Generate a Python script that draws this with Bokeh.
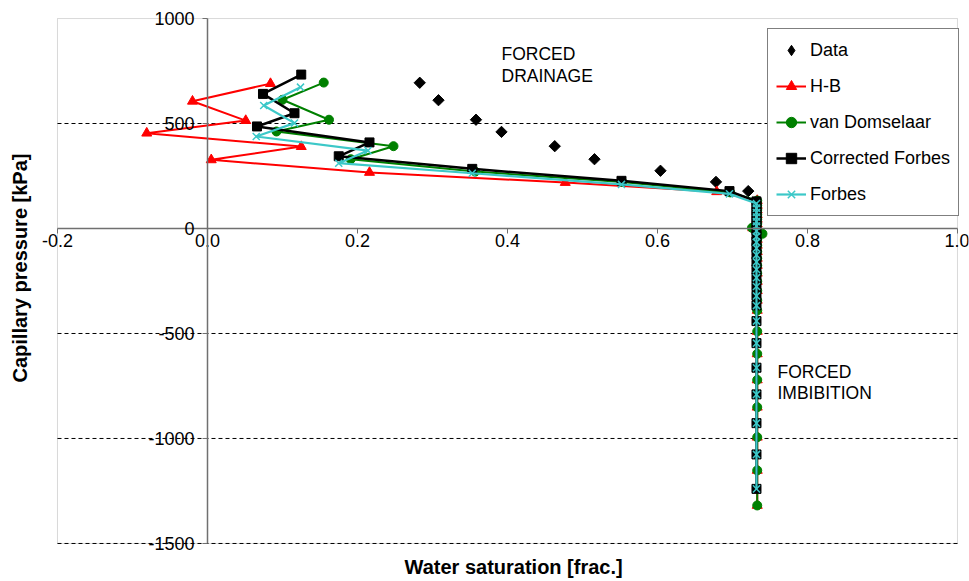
from bokeh.plotting import figure
from bokeh.models import (Range1d, Legend, LegendItem, Title, Label, FixedTicker,
                          NumeralTickFormatter, BoxAnnotation)
from bokeh.embed import file_html
from bokeh.resources import INLINE

# ---------------- data ----------------
x_ticks = [-0.2, 0.0, 0.2, 0.4, 0.6, 0.8, 1.0]
y_ticks = [-1500, -1000, -500, 0, 500, 1000]

data_sw = [0.283, 0.308, 0.358, 0.392, 0.463, 0.516, 0.604, 0.678, 0.721]
data_pc = [694, 611, 518, 460, 392, 330, 275, 222, 178]

# drainage branches
hb_dr_sw = [0.084, -0.020, 0.051, -0.081, 0.125, 0.005, 0.216, 0.477, 0.679]
hb_dr_pc = [690, 606, 514, 454, 390, 327, 267, 219, 175]
vd_dr_sw = [0.155, 0.100, 0.162, 0.092, 0.248, 0.191, 0.357, 0.553, 0.697]
vd_dr_pc = [695, 613, 518, 462, 392, 330, 271, 222, 172]
cf_dr_sw = [0.125, 0.074, 0.116, 0.066, 0.216, 0.175, 0.353, 0.552, 0.696]
cf_dr_pc = [733, 641, 549, 486, 410, 344, 284, 227, 178]
fb_dr_sw = [0.124, 0.075, 0.116, 0.065, 0.214, 0.175, 0.353, 0.552, 0.696]
fb_dr_pc = [673, 586, 502, 438, 371, 311, 263, 210, 165]

# imbibition branches (near-vertical column)
hb_im_pc = [133, 110, 88, 66, 44, 22, 3, -25, -52, -80, -110, -142, -176, -213,
            -252, -296, -342, -390, -490, -597, -721, -851, -994, -1152, -1319]
hb_im_sw = [0.733, 0.733, 0.733, 0.733, 0.733, 0.733, 0.727, 0.738, 0.733, 0.733,
            0.733, 0.733, 0.733, 0.733, 0.733, 0.733, 0.733, 0.733, 0.733, 0.733,
            0.733, 0.733, 0.733, 0.733, 0.733]
vd_im_pc = [133, 110, 88, 66, 44, 22, 3, -25, -52, -80, -110, -142, -176, -213,
            -252, -296, -342, -390, -490, -597, -721, -851, -994, -1152, -1319]
vd_im_sw = [0.733, 0.733, 0.733, 0.733, 0.733, 0.733, 0.726, 0.740, 0.733, 0.733,
            0.733, 0.733, 0.733, 0.733, 0.733, 0.733, 0.733, 0.733, 0.733, 0.733,
            0.733, 0.733, 0.733, 0.733, 0.733]
cf_im_pc = [129, 106, 84, 62, 40, 18, -8, -35, -62, -92, -124, -158, -194, -233,
            -275, -320, -366, -441, -546, -663, -790, -927, -1076, -1240]
cf_im_sw = [0.732] * len(cf_im_pc)
fb_im_pc = [119, 97, 76, 55, 33, 12, -12, -38, -65, -94, -126, -159, -195, -234,
            -276, -321, -367, -441, -546, -663, -790, -927, -1076, -1240]
fb_im_sw = [0.732] * len(fb_im_pc)

hb_sw, hb_pc = hb_dr_sw + hb_im_sw, hb_dr_pc + hb_im_pc
vd_sw, vd_pc = vd_dr_sw + vd_im_sw, vd_dr_pc + vd_im_pc
cf_sw, cf_pc = cf_dr_sw + cf_im_sw, cf_dr_pc + cf_im_pc
fb_sw, fb_pc = fb_dr_sw + fb_im_sw, fb_dr_pc + fb_im_pc

FONT = "Liberation Sans"
CYAN = "#3cc8c8"
X_LO, X_HI = x_ticks[0], x_ticks[-1]
Y_LO, Y_HI = y_ticks[0], y_ticks[-1]

# frame slightly larger than the plot area so that edge tick labels are not clipped
p = figure(width=969, height=580, output_backend="svg", toolbar_location=None,
           x_range=Range1d(-0.236, 1.0147), y_range=Range1d(-1543, 1062),
           min_border_left=30, min_border_right=1, min_border_top=5,
           min_border_bottom=28)

p.outline_line_color = None
p.background_fill_color = "white"
p.xgrid.visible = False
p.ygrid.visible = False

# dashed horizontal grid limited to the plot area
grid_y = [t for t in y_ticks if t not in (0, Y_HI)]
p.segment(x0=[X_LO] * len(grid_y), x1=[X_HI] * len(grid_y), y0=grid_y, y1=grid_y,
          line_color="black", line_dash="4 3", line_width=1)

p.add_layout(BoxAnnotation(left=X_LO, right=X_HI, bottom=Y_LO, top=Y_HI,
                           fill_alpha=0, line_color="#808080", line_width=1,
                           level="underlay"))

for ax in (p.xaxis[0], p.yaxis[0]):
    ax.fixed_location = 0
    ax.axis_line_color = "#707070"
    ax.axis_line_width = 1.5
    ax.major_tick_line_color = "#707070"
    ax.major_tick_in = 0
    ax.major_tick_out = 5
    ax.minor_tick_line_color = None
    ax.major_label_text_font = FONT
    ax.major_label_text_font_size = "18px"
    ax.major_label_text_color = "black"

p.xaxis[0].bounds = (X_LO, X_HI)
p.xaxis[0].ticker = FixedTicker(ticks=x_ticks)
p.xaxis[0].formatter = NumeralTickFormatter(format="0.0")
p.xaxis[0].major_label_standoff = 1
p.yaxis[0].bounds = (Y_LO, Y_HI)
p.yaxis[0].ticker = FixedTicker(ticks=y_ticks)
p.yaxis[0].formatter = NumeralTickFormatter(format="0")
p.yaxis[0].major_label_standoff = 8

# ---------------- glyphs ----------------
r_data = p.scatter(data_sw, data_pc, marker="square", angle=0.785398, size=8,
                   color="black")
# legend proxy for the diamond (legend glyphs are never rotated); size 0 in the plot
r_data_leg = p.scatter(data_sw, data_pc, marker="diamond", size=0, color="black")

l_hb = p.line(hb_sw, hb_pc, line_color="red", line_width=2)
s_hb = p.scatter(hb_sw, hb_pc, marker="triangle", size=10, color="red")

l_vd = p.line(vd_sw, vd_pc, line_color="green", line_width=2)
s_vd = p.scatter(vd_sw, vd_pc, marker="circle", size=9, color="green")

l_cf = p.line(cf_sw, cf_pc, line_color="black", line_width=2.5)
s_cf = p.scatter(cf_sw, cf_pc, marker="square", size=9, color="black")

l_fb = p.line(fb_sw, fb_pc, line_color=CYAN, line_width=2.2)
s_fb = p.scatter(fb_sw, fb_pc, marker="x", size=10, line_color=CYAN, line_width=1.5)

# ---------------- annotations ----------------
for txt, xx, yy in [("FORCED", 0.392, 832), ("DRAINAGE", 0.392, 728),
                    ("FORCED", 0.760, -684), ("IMBIBITION", 0.760, -784)]:
    p.add_layout(Label(x=xx, y=yy, text=txt, text_baseline="middle",
                       text_font=FONT, text_font_size="17.5px", text_color="black"))

legend = Legend(items=[
    LegendItem(label="Data", renderers=[r_data_leg]),
    LegendItem(label="H-B", renderers=[l_hb, s_hb]),
    LegendItem(label="van Domselaar", renderers=[l_vd, s_vd]),
    LegendItem(label="Corrected Forbes", renderers=[l_cf, s_cf]),
    LegendItem(label="Forbes", renderers=[l_fb, s_fb]),
], location=(737, 336))
legend.label_text_font = FONT
legend.label_text_font_size = "18px"
legend.label_text_color = "black"
legend.glyph_width = 30
legend.glyph_height = 26
legend.label_height = 26
legend.label_standoff = 4
legend.spacing = 10
legend.padding = 8
legend.margin = 0
legend.border_line_color = "black"
legend.border_line_width = 1
legend.background_fill_color = "white"
legend.background_fill_alpha = 1
p.add_layout(legend)

p.add_layout(Title(text="Water saturation [frac.]", align="left", offset=374,
                   text_font=FONT, text_font_size="20px", text_font_style="bold",
                   text_color="black", standoff=2), "below")
p.add_layout(Title(text="Capillary pressure [kPa]", align="left", offset=170,
                   text_font=FONT, text_font_size="20px", text_font_style="bold",
                   text_color="black", standoff=0), "left")

open("out.html", "w").write(file_html(p, INLINE))
